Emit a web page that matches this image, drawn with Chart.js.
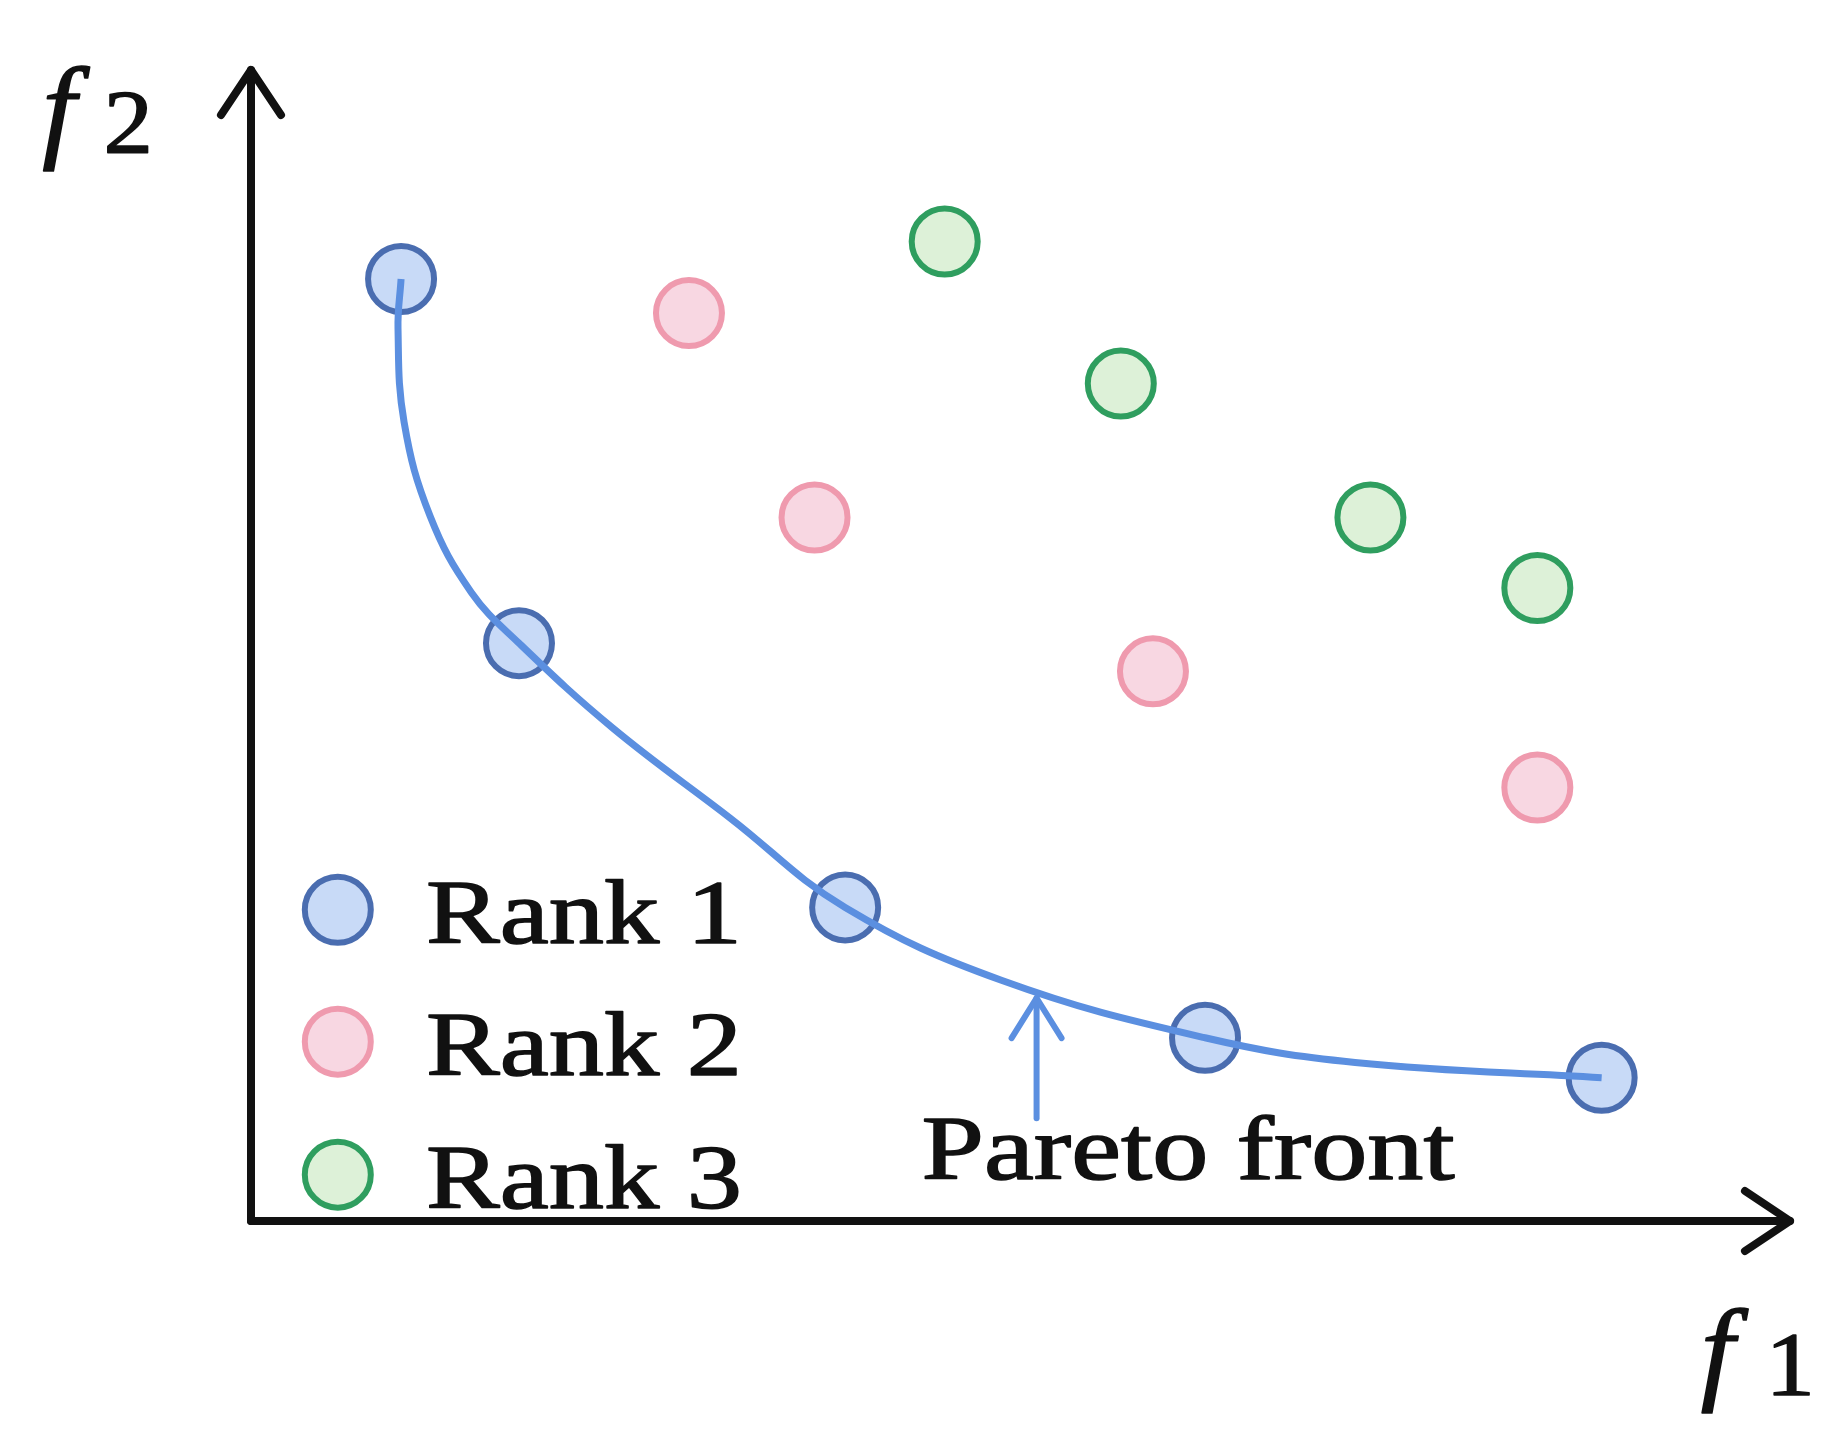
<!DOCTYPE html>
<html><head><meta charset="utf-8">
<script src="https://cdn.jsdelivr.net/npm/chart.js@4"></script>
<style>html,body{margin:0;padding:0;background:#fff}#w{width:1838px;height:1432px}</style>
</head><body><div id="w"><canvas id="c"></canvas></div>
<script>
const rank1X = [0.98, 1.75, 3.88, 6.23, 8.82];
const rank1Y = [8.02, 4.92, 2.67, 1.56, 1.22];
const rank2X = [2.86, 3.68, 5.89, 8.40];
const rank2Y = [7.73, 5.99, 4.68, 3.69];
const rank3X = [4.53, 5.68, 7.31, 8.40];
const rank3Y = [8.34, 7.13, 5.99, 5.39];
const frontX = [0.98, 0.96, 1.00, 1.17, 1.44, 1.75, 2.36, 3.13, 3.88, 4.90, 6.23, 7.21, 8.82];
const frontY = [8.02, 7.60, 6.80, 6.00, 5.35, 4.92, 4.20, 3.43, 2.67, 2.05, 1.56, 1.35, 1.22];
const seriesNames = ['Rank 1', 'Rank 2', 'Rank 3'];
const S = 1.177;
const pts = (xs, ys) => xs.map((x, i) => ({x, y: ys[i]}));
const styles = [
  {fill:'#c8daf7', border:'#4a6db0'},
  {fill:'#f8d7e2', border:'#ef9aae'},
  {fill:'#ddf1d8', border:'#2f9e5f'}
];
const R = 33, BW = 6;
function arrowHead(ctx, x, y, dir, len, half){
  ctx.beginPath();
  if(dir==='up'){ctx.moveTo(x-half,y+len);ctx.lineTo(x,y);ctx.lineTo(x+half,y+len);}
  else {ctx.moveTo(x-len,y-half);ctx.lineTo(x,y);ctx.lineTo(x-len,y+half);}
  ctx.stroke();
}
function wideText(ctx, t, x, y, sx){
  ctx.save();ctx.translate(x,y);ctx.scale(sx,1);
  ctx.fillText(t,0,0);ctx.lineWidth=1.5;ctx.strokeStyle='#111';ctx.strokeText(t,0,0);
  ctx.restore();
}
const deco = {
  id:'deco',
  beforeDatasetsDraw(chart){
    const ctx=chart.ctx, xs=chart.scales.x, ys=chart.scales.y;
    const x0=xs.getPixelForValue(0), y0=ys.getPixelForValue(0);
    const xe=xs.getPixelForValue(xs.max), ye=ys.getPixelForValue(ys.max);
    ctx.save();
    ctx.strokeStyle='#111';ctx.lineWidth=8;ctx.lineCap='round';ctx.lineJoin='round';
    ctx.beginPath();ctx.moveTo(x0,y0);ctx.lineTo(x0,ye);ctx.stroke();
    ctx.beginPath();ctx.moveTo(x0,y0);ctx.lineTo(xe,y0);ctx.stroke();
    arrowHead(ctx,x0,ye,'up',45,30);
    arrowHead(ctx,xe,y0,'right',45,30);
    ctx.fillStyle='#111';
    ctx.font='italic 115px "Liberation Serif"';
    wideText(ctx,'f',36*S,125*S,1.05);
    ctx.font='90px "Liberation Serif"';
    wideText(ctx,'2',88*S,130*S,1.1);
    ctx.font='italic 115px "Liberation Serif"';
    wideText(ctx,'f',1445*S,1180*S,1.05);
    ctx.font='90px "Liberation Serif"';
    wideText(ctx,'1',1500*S,1185*S,1.1);
    // Pareto annotation
    const ax=xs.getPixelForValue(5.13);
    ctx.strokeStyle='#5b8fe0';ctx.lineWidth=6;
    ctx.beginPath();ctx.moveTo(ax,950*S);ctx.lineTo(ax,848*S);ctx.stroke();
    arrowHead(ctx,ax,848*S,'up',40,25);
    ctx.fillStyle='#111';ctx.font='92px "Liberation Serif"';
    wideText(ctx,'Pareto front',783*S,1002*S,1.22);
    // legend
    const ly=[773,885,998];
    seriesNames.forEach((n,i)=>{
      ctx.beginPath();ctx.arc(287*S,ly[i]*S,R,0,Math.PI*2);
      ctx.fillStyle=styles[i].fill;ctx.fill();
      ctx.lineWidth=BW;ctx.strokeStyle=styles[i].border;ctx.stroke();
      ctx.fillStyle='#111';ctx.font='92px "Liberation Serif"';
      wideText(ctx,n,362*S,(ly[i]+28)*S,1.2);
    });
    ctx.restore();
  }
};
const mk=(i,xs,ys)=>({type:'scatter',label:seriesNames[i],data:pts(xs,ys),
  backgroundColor:styles[i].fill,borderColor:styles[i].border,pointRadius:R,pointBorderWidth:BW,pointHoverRadius:R});
new Chart(document.getElementById('c'),{
  data:{datasets:[
    {type:'line',label:'front',data:pts(frontX,frontY),borderColor:'#5b8fe0',borderWidth:7,
     pointRadius:0,tension:0.4,fill:false},
    mk(0,rank1X,rank1Y),mk(1,rank2X,rank2Y),mk(2,rank3X,rank3Y)
  ]},
  options:{responsive:true,maintainAspectRatio:false,animation:false,
    layout:{padding:{left:251,right:48,top:70,bottom:211}},
    plugins:{legend:{display:false},tooltip:{enabled:false}},
    scales:{
      x:{type:'linear',min:0,max:10.05,display:false},
      y:{type:'linear',min:0,max:9.8,display:false}
    }},
  plugins:[deco]
});
</script></body></html>
